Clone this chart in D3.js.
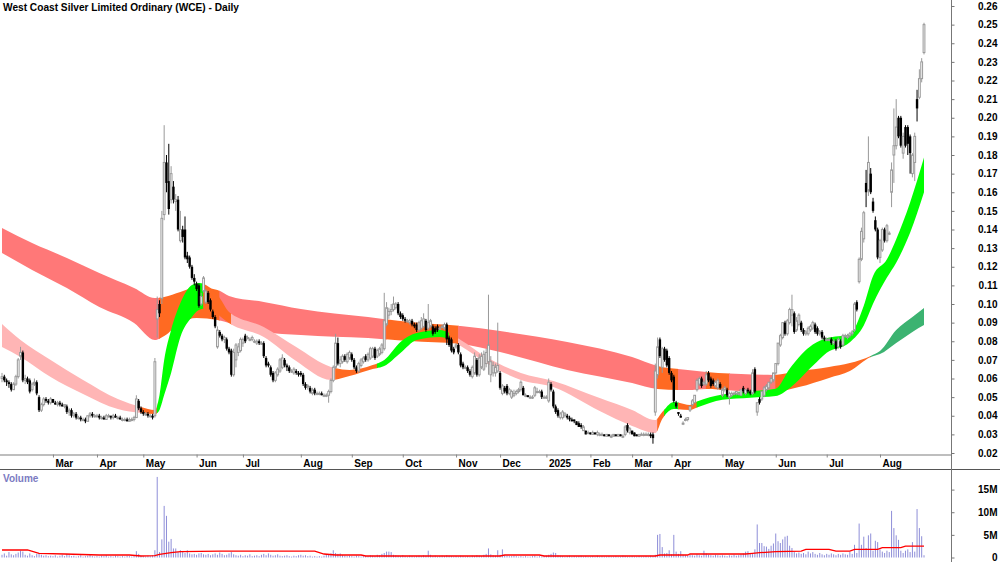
<!DOCTYPE html>
<html>
<head>
<meta charset="utf-8">
<script src="https://cdn.jsdelivr.net/npm/d3@7"></script>
<style>
  body { margin: 0; background: #fff; }
  svg { display: block; }
</style>
</head>
<body>
<svg id="chart" width="1000" height="562"></svg>
<script>
const title = 'West Coast Silver Limited Ordinary (WCE) - Daily'

// daily bars, prices in thousandths of A$ : [open, high, low, close]
const ohlc = [
  // Feb 2024
  [60,63,58,61],[61,62,58,59],[59,60,56,58],[58,59,55,57],[57,58,53,54],[54,58,54,57],[57,62,56,61],[61,71,60,70],[72,77,70,74],[74,75,58,59],
  [59,62,57,60],[60,61,57,58],[59,60,52,53],[54,58,53,57],[57,60,56,58],[58,59,51,52],[50,51,42,43],[43,47,42,46],[46,50,45,49],[49,50,47,48],
  [48,49,46,47],[47,50,46,49],
  // Mar
  [49,49,47,47],[47,48,46,46],[46,48,45,47],[47,48,45,46],[46,47,45,45],[45,46,44,46],[45,46,41,42],[42,44,40,43],[43,44,39,40],[40,42,39,41],
  [41,42,38,39],[39,40,38,39],[39,40,37,38],[38,39,37,38],[38,39,36,37],[37,40,37,40],[40,42,39,41],[41,42,39,40],[40,41,39,40],
  // Apr
  [40,41,39,40],[40,41,38,39],[39,40,38,39],[39,40,38,38],[38,41,38,40],[40,41,39,40],[40,40,38,39],[39,41,38,40],[40,41,39,39],[39,40,38,39],
  [39,40,38,38],[38,39,37,38],[38,39,37,38],[38,39,37,37],[37,39,37,38],[38,39,37,38],[38,40,37,39],[39,51,39,49],[48,49,43,44],[44,45,41,42],
  // May
  [42,43,40,41],[41,42,40,41],[41,42,39,40],[40,41,39,40],[40,41,38,39],[40,71,39,69],[92,104,82,97],[100,102,93,95],[103,150,100,146],
  [148,196,145,176],[176,180,160,165],[166,186,148,151],[156,174,154,170],[163,166,154,156],[155,159,150,156],[156,158,139,140],[134,150,133,140],[140,142,133,136],[140,147,124,125],
  [126,128,122,124],[125,126,119,120],[120,121,113,114],[114,116,110,112],
  // Jun
  [111,112,107,108],[110,111,98,99],[100,106,99,104],[107,115,106,114],[101,108,100,107],[106,107,100,101],
  [102,103,96,97],[96,97,92,93],[93,94,87,88],[77,88,76,86],[85,86,82,83],[83,84,80,81],[81,83,79,82],[81,82,75,76],[76,77,73,74],[75,76,61,62],
  [62,76,61,74],[70,79,66,78],[74,79,72,77],[75,82,74,81],
  // Jul
  [79,82,77,81],[83,84,79,80],[82,83,81,82],
  [81,82,80,81],[81,83,80,82],[80,81,79,80],[79,81,78,80],[80,81,78,79],[79,80,78,79],
  [79,80,71,72],[71,72,66,67],[68,69,66,67],[66,67,61,62],[63,64,58,59],[59,64,58,63],[62,66,61,65],[64,71,63,70],[66,73,65,71],[70,71,66,67],
  [67,68,64,66],[66,67,63,64],[64,65,63,64],[63,66,62,65],[64,65,62,63],
  // Aug
  [63,64,61,62],[63,64,61,62],[62,63,56,57],[57,58,54,55],[56,57,54,56],[55,56,52,53],[52,55,51,54],[54,55,51,52],
  [52,53,51,52],[52,53,51,52],[52,53,51,51],[51,52,50,51],[51,52,50,51],
  [51,54,47,53],[53,60,52,59],[59,67,58,66],[66,84,65,79],[79,82,67,68],[68,72,66,70],[69,73,68,72],[72,73,69,70],[69,74,68,73],
  // Sep
  [71,75,70,74],
  [73,74,69,70],[70,71,65,66],[66,67,63,64],[64,69,63,68],[67,71,66,70],[69,72,68,71],[72,73,69,70],[70,74,69,73],[71,77,70,76],[72,77,71,76],
  [76,77,70,71],[72,76,71,75],[73,77,72,76],[74,79,73,78],[76,106,75,91],[89,101,88,98],[94,98,92,96],[96,100,94,97],[97,104,96,100],[98,101,97,100],
  [100,101,94,95],[95,96,92,93],
  // Oct
  [94,95,91,92],[92,93,90,91],[91,92,90,91],[90,92,89,91],[91,92,88,89],[89,90,87,88],[89,90,85,86],[86,91,85,90],
  [87,93,86,91],[88,95,87,92],[91,92,85,86],[87,100,86,90],[88,92,87,91],[88,89,83,84],[87,88,84,85],[88,89,85,86],[87,88,86,87],[88,89,87,88],
  [87,90,86,89],[89,90,78,81],[82,83,77,78],[81,82,74,75],[76,77,73,74],
  // Nov
  [77,79,76,78],[78,79,73,74],[73,74,66,67],[68,69,65,66],[66,67,65,66],
  [66,67,63,64],[64,65,61,62],[61,67,60,66],[63,74,62,72],[70,71,61,62],[62,73,61,71],[66,74,65,72],[65,75,64,73],[68,76,66,74],[69,105,62,78],
  [62,72,58,69],[63,69,61,67],[63,68,61,66],[64,90,63,67],
  // Dec
  [63,64,54,55],[52,57,51,56],[55,56,52,53],[56,57,51,52],[52,55,51,54],[50,54,49,53],[51,54,50,52],[52,54,51,53],[53,55,52,54],[54,59,53,58],
  [55,56,51,51],[51,52,50,51],[51,51,50,50],[50,51,49,50],[50,51,49,50],[51,56,50,55],[53,55,52,53],[53,54,52,53],[53,54,49,50],[50,51,49,50],
  // Jan 2025
  [50,51,49,50],[48,60,47,58],[57,58,53,54],[53,54,44,45],[45,46,41,42],[43,44,39,40],[39,42,38,41],[39,43,38,42],[40,42,39,41],[40,41,38,39],
  [39,40,37,38],[38,39,37,37],[38,38,36,37],[37,37,35,35],[36,37,34,34],[35,36,33,34],[32,35,32,34],[32,32,30,30],[31,32,30,31],
  // Feb
  [31,31,30,30],[30,32,30,31],[31,31,30,30],[30,32,29,31],[30,31,29,30],[30,31,29,30],[30,30,29,29],[29,30,29,30],[30,30,29,29],[29,30,28,29],
  [29,30,29,30],[30,30,29,29],[29,30,29,30],[30,30,29,29],[29,30,28,29],[30,35,29,34],[35,36,31,32],[31,34,30,33],
  // Mar
  [32,32,30,30],[31,31,29,29],[30,30,29,29],[29,30,29,30],[30,31,30,30],[30,31,29,30],[30,31,30,30],[30,31,29,30],[30,31,28,29],[30,31,25,28],
  [42,68,40,64],[62,82,60,77],[81,82,71,72],[66,77,63,76],[76,77,69,70],[75,76,66,67],[71,72,62,63],
  // Apr
  [63,64,58,59],[61,62,47,48],[47,48,44,45],[42,42,40,41],[40,41,39,39],[36,37,35,36],[38,39,37,38],[38,39,37,39],[43,45,42,45],[46,49,45,48],
  [47,51,47,51],[54,60,53,59],[57,61,56,60],[60,61,55,56],[57,59,56,58],[57,64,56,62],[63,64,58,59],[60,61,55,56],[59,60,56,57],[56,59,55,58],
  [55,60,54,59],[57,58,54,55],
  // May
  [51,55,50,54],[54,56,53,55],[54,55,50,51],[50,53,46,52],[51,53,50,52],[52,53,51,52],[52,53,51,53],[52,53,51,52],[51,54,51,54],[55,56,52,53],
  [52,54,51,54],[54,55,52,53],[53,54,51,52],[52,65,51,63],[65,66,52,53],[42,47,40,47],[49,50,46,47],[49,53,48,53],[51,56,50,55],[54,57,53,56],
  [55,58,54,58],[58,61,57,60],[59,63,58,63],
  // Jun
  [63,68,62,68],[68,79,67,79],[78,84,77,83],[82,90,81,90],[90,91,83,84],[84,92,83,91],[90,98,89,97],[94,105,88,97],[95,96,84,85],[86,93,85,91],
  [89,95,88,94],[90,91,85,86],[86,87,83,84],[84,86,83,85],[84,88,83,87],[86,89,85,88],[87,91,86,90],[89,90,84,85],[87,88,83,84],[84,86,83,85],
  [85,86,81,82],[82,83,80,81],
  // Jul
  [81,82,80,81],[81,82,80,81],[81,82,78,79],[79,81,78,80],[80,81,75,76],[77,82,76,81],[80,81,76,77],[78,84,77,83],[83,84,82,83],[82,84,81,83],
  [83,85,82,84],[84,86,83,85],[86,101,85,100],[101,102,96,97],[112,125,111,124],[124,141,123,139],[135,150,133,149],[165,172,152,160],[161,190,158,176],[170,173,159,160],
  [155,157,149,150],[145,147,139,140],[140,141,124,125],
  // Aug
  [125,135,122,134],[129,141,128,140],[140,141,133,134],[134,143,133,142],[138,139,137,138],[160,176,152,172],[180,205,165,185],[185,210,183,195],[200,201,189,190],[200,201,184,185],
  [181,192,178,190],[195,196,184,185],[195,196,180,186],[190,191,170,181],[170,181,168,180],[176,192,166,190],[210,215,198,205],[211,226,210,221],[221,232,219,230],[235,251,234,250]
]

// daily volume, millions of shares
const volumes = [
  0.6,0.9,0.4,1.2,0.7,0.5,0.8,1.1,1.5,1.3, 0.6,0.4,0.9,0.5,0.3,0.8,1.0,0.6,0.4,0.5,
  0.3,0.4,0.3,0.5,0.2,0.4,0.6,0.3,0.8,0.5, 0.3,0.4,0.2,0.3,0.5,0.2,0.3,0.4,0.6,0.3,
  0.2,0.3,0.2,0.4,0.3,0.5,0.2,0.3,0.2,0.4, 0.3,0.2,0.3,0.2,0.4,0.3,0.2,0.3,1.4,0.8,
  0.4,0.3,0.2,0.4,0.3,0.5,1.6,17.8,1.2,4.0, 11.4,9.2,3.5,4.1,2.0,2.0,1.2,1.6,1.3,1.0,
  1.6,0.9,0.7,0.8,0.6,0.9,1.0,0.7,0.6,0.8, 0.5,0.7,0.9,0.6,1.1,0.8,0.5,0.6,0.9,1.2,
  0.7,0.5,0.4,0.6,0.3,0.5,0.4,0.7,0.3,0.4, 0.5,0.3,0.6,0.8,0.5,0.9,0.6,0.4,0.5,0.7,
  0.4,0.3,0.4,0.5,0.3,0.2,0.4,0.3,0.5,0.6, 0.4,0.5,0.3,0.4,0.2,0.3,0.2,0.3,0.2,0.4,
  0.6,0.7,0.9,1.6,1.0,0.8,0.9,0.5,0.4,0.3, 0.4,0.3,0.2,0.4,0.3,0.2,0.3,0.4,0.3,0.5,
  0.4,0.3,0.6,0.5,0.8,1.0,1.3,1.3,1.2,0.6, 0.5,0.4,0.3,0.5,0.3,0.2,0.4,0.3,0.2,0.3,
  0.4,0.3,0.5,0.4,1.5,0.6,0.3,0.4,0.2,0.3, 0.4,0.3,0.5,0.4,0.3,0.2,0.3,0.2,0.4,0.3,
  0.2,0.3,0.2,0.4,0.3,0.5,0.4,0.3,0.6,0.8, 2.0,0.7,0.5,0.4,1.6,0.6,1.8,0.5,0.4,0.3,
  0.3,0.4,0.3,0.2,0.3,0.2,0.3,0.2,0.2,0.3, 0.4,0.2,0.3,0.2,0.3,0.4,0.6,0.8,1.1,1.0,
  0.5,0.4,0.3,0.2,0.3,0.4,0.2,0.3,0.2,0.3, 0.4,0.2,0.3,0.2,0.2,0.3,0.2,0.4,0.2,0.3,
  0.2,0.2,0.3,0.2,0.2,0.3,0.2,0.2,0.4,0.3, 0.2,0.2,0.3,0.2,0.2,0.3,0.2,0.2,0.3,0.2,
  0.4,0.3,0.6,5.0,5.2,2.3,0.9,1.0,1.6,0.7, 5.0,1.3,0.8,1.4,0.6,0.5,0.4,0.6,0.5,0.4,
  0.7,0.5,0.4,1.5,0.9,0.6,0.5,0.4,0.6,0.5, 0.4,0.5,0.4,0.3,0.5,0.4,0.6,0.4,0.5,0.7,
  0.9,1.3,1.4,0.9,1.0,1.8,7.3,3.2,3.2,2.5, 2.4,1.9,2.6,3.1,5.3,3.6,3.2,4.0,4.6,4.8,
  2.6,2.1,1.2,0.9,1.1,0.8,1.0,0.7,1.3,0.9, 1.2,0.8,0.6,1.0,0.7,0.5,0.8,0.6,0.9,0.7,
  0.5,0.8,0.6,0.9,0.7,0.6,1.2,0.8,2.8,1.0, 7.5,2.8,4.6,2.1,4.9,5.3,1.5,3.7,3.4,1.8,
  1.3,1.0,1.5,1.2,10.3,6.5,4.9,3.9,1.5,1.0, 1.5,1.8,1.2,3.4,1.3,10.7,6.5,4.7,0.5
]

// volume moving average, read at bar index: [bar, millions]
const volAvg = [
  [0,1.66],[11,1.66],[16,0.93],[27,0.77],[42,0.55],[55,0.55],[60,0.33],[66,0.4],[68,0.7],[73,1.06],
  [77,1.28],[94,1.43],[135,1.43],[139,0.77],[144,0.55],[155,0.55],[157,0.33],[215,0.33],[217,0.55],[232,0.55],
  [234,0.33],[282,0.33],[284,0.55],[296,0.55],[297,0.77],[321,0.77],[324,0.92],[327,1.06],[334,1.28],[345,1.43],
  [347,1.8],[357,1.8],[360,1.43],[366,1.43],[368,1.8],[378,1.8],[380,2.17],[388,2.17],[390,2.5],[398,2.5]
]

// long-term average ribbon (edges)
const longIdx = [0,13,28,42,57,66,70,77,84,93,98,113,129,158,176,198,215,244,272,283,296,304,319,333,344,357,366,375,379,386,393,398]
const longTop = [.1408,.1327,.1247,.1166,.1086,.1032,.1038,.1064,.1091,.1075,.1043,.1011,.0973,.0930,.0903,.0882,.0855,.0796,.0715,.0667,.0646,.0635,.0624,.0619,.0640,.0662,.0683,.0721,.0747,.0860,.0930,.0979]
const longBot = [.1274,.1183,.1086,.0984,.0898,.0807,.0828,.0898,.0925,.0914,.0898,.0850,.0834,.0817,.0801,.0785,.0742,.0646,.0576,.0544,.0538,.0544,.0533,.0528,.0554,.0603,.0640,.0715,.0731,.0791,.0850,.0887]
const longPhases = [[0,68,'down'],[68,94,'mixed'],[94,166,'down'],[166,197,'mixed'],[197,283,'down'],[283,292,'mixed'],[292,304,'down'],[304,314,'mixed'],[314,334,'down'],[334,375,'mixed'],[375,398,'up']]

// short-term average ribbon
const shortIdx = [0,8,21,35,50,60,66,68,70,73,77,82,85,90,94,98,113,127,142,150,160,165,172,179,189,198,209,224,238,258,272,282,285,290,297,300,311,323,334,340,350,356,366,372,376,382,386,392,398]
const shortTop = [.0893,.0807,.0699,.0592,.0490,.0447,.0431,.0511,.0699,.0860,.1005,.1102,.1113,.1086,.1032,.0957,.0877,.0769,.0662,.0646,.0672,.0699,.0796,.0844,.0860,.0807,.0715,.0630,.0587,.0495,.0431,.0377,.0420,.0474,.0458,.0476,.0514,.0532,.0545,.0652,.0782,.0816,.0838,.0990,.1150,.1240,.1348,.1545,.1786]
const shortBot = [.0769,.0715,.0608,.0517,.0436,.0415,.0409,.0431,.0511,.0630,.0823,.0930,.0968,.0979,.0936,.0898,.0823,.0694,.0592,.0613,.0651,.0667,.0737,.0807,.0823,.0774,.0683,.0592,.0554,.0425,.0345,.0307,.0383,.0436,.0431,.0444,.0486,.0497,.0506,.0548,.0668,.0738,.0795,.0885,.1002,.1142,.1222,.1382,.1600]
const shortPhases = [[0,60,'down'],[60,67,'mixed'],[67,87,'up'],[87,99,'mixed'],[99,144,'down'],[144,162,'mixed'],[162,193,'up'],[193,197,'mixed'],[197,283,'down'],[283,286,'mixed'],[286,292,'up'],[292,300,'mixed'],[300,398,'up']]

// axis ticks
const monthIdx = [22,41,61,84,104,129,151,173,196,215,235,254,272,289,311,334,356,379]
const monthLabels = ['Mar','Apr','May','Jun','Jul','Aug','Sep','Oct','Nov','Dec','2025','Feb','Mar','Apr','May','Jun','Jul','Aug']
const priceTicks = [0.02,0.03,0.04,0.05,0.06,0.07,0.08,0.09,0.10,0.11,0.12,0.13,0.14,0.15,0.16,0.17,0.18,0.19,0.20,0.21,0.22,0.23,0.24,0.25,0.26]
const volTicks = [0,5,10,15]

// colours
const longColors = { down: '#ff7878', mixed: '#ff6a22', up: '#3cb371' }
const shortColors = { down: '#ffb5b5', mixed: '#ff6a22', up: '#00ff00' }
const upColor = '#999999'
const downColor = '#000000'
const volColor = '#8e8ed8'
const font = '"Liberation Sans", Arial, sans-serif'

const svg = d3.select('#chart')
const defs = svg.append('defs')

// scales
const x = d3.scaleLinear().domain([0, ohlc.length - 1]).range([2, 924])
const y = d3.scaleLinear().domain([0.02, 0.26]).range([453, 6])
const yVol = d3.scaleLinear().domain([0, 15]).range([557.5, 489.6])

// ribbons
function drawRibbon(idx, top, bot, phases, colors, name) {
    let pts = idx.map((d, k) => ({ i: d, hi: top[k], lo: bot[k] }))
    let area = d3.area()
        .x(d => x(d.i))
        .y0(d => y(d.lo))
        .y1(d => y(d.hi))
        .curve(d3.curveMonotoneX)
    let pathD = area(pts)
    phases.forEach((p, k) => {
        let id = name + k
        let x0 = k === 0 ? 0 : x(p[0]) - 0.4
        let x1 = k === phases.length - 1 ? x(p[1]) + 2 : x(p[1]) + 0.4
        defs.append('clipPath').attr('id', id)
            .append('rect')
            .attr('x', x0).attr('y', 0)
            .attr('width', x1 - x0).attr('height', 455)
        svg.append('path')
            .attr('d', pathD)
            .attr('fill', colors[p[2]])
            .attr('clip-path', 'url(#' + id + ')')
    })
}
drawRibbon(longIdx, longTop, longBot, longPhases, longColors, 'lclip')
drawRibbon(shortIdx, shortTop, shortBot, shortPhases, shortColors, 'sclip')

// candles
let candles = svg.append('g')
ohlc.forEach((d, i) => {
    let o = d[0] / 1000, h = d[1] / 1000, l = d[2] / 1000, c = d[3] / 1000
    let up = c >= o
    let cx = x(i)
    candles.append('line')
        .attr('x1', cx).attr('x2', cx)
        .attr('y1', y(h)).attr('y2', y(l))
        .attr('stroke', up ? upColor : downColor)
        .attr('stroke-width', 1)
    let top = y(Math.max(o, c))
    let hgt = Math.max(Math.abs(y(o) - y(c)), 1)
    if (up) {
        candles.append('rect')
            .attr('x', cx - 0.9).attr('y', top)
            .attr('width', 1.8).attr('height', hgt)
            .attr('fill', '#fff')
            .attr('stroke', upColor)
            .attr('stroke-width', 1)
    } else {
        candles.append('rect')
            .attr('x', cx - 1.2).attr('y', top)
            .attr('width', 2.4).attr('height', hgt)
            .attr('fill', downColor)
    }
})

// volume bars
svg.append('g').selectAll('line')
    .data(volumes)
    .enter()
    .append('line')
    .attr('x1', (d, i) => x(i)).attr('x2', (d, i) => x(i))
    .attr('y1', yVol(0)).attr('y2', d => yVol(d))
    .attr('stroke', volColor)
    .attr('stroke-width', 1)

// volume average
svg.append('path')
    .datum(volAvg)
    .attr('d', d3.line().x(d => x(d[0])).y(d => yVol(d[1])))
    .attr('fill', 'none')
    .attr('stroke', '#ff0000')
    .attr('stroke-width', 1.3)

// frame lines
svg.append('line').attr('x1', 0).attr('x2', 952).attr('y1', 455).attr('y2', 455)
    .attr('stroke', '#a8a8a8').attr('stroke-width', 1.5)
svg.append('line').attr('x1', 0).attr('x2', 1000).attr('y1', 469.5).attr('y2', 469.5)
    .attr('stroke', '#555').attr('stroke-width', 1)
svg.append('line').attr('x1', 951.5).attr('x2', 951.5).attr('y1', 0).attr('y2', 562)
    .attr('stroke', '#777').attr('stroke-width', 1)

// price axis
let yAxis = d3.axisRight(y).tickValues(priceTicks).tickFormat(d3.format('.2f')).tickSize(3)
let gy = svg.append('g').attr('transform', 'translate(951.5,0)').call(yAxis)
gy.select('.domain').remove()
gy.selectAll('line').attr('stroke', '#777')
gy.selectAll('text').attr('x', 46).attr('text-anchor', 'end').attr('fill', '#000')
gy.attr('font-family', font).attr('font-size', 10).attr('font-weight', 'bold')

// volume axis
let vAxis = d3.axisRight(yVol).tickValues(volTicks).tickFormat(d => d === 0 ? '0' : d + 'M').tickSize(3)
let gv = svg.append('g').attr('transform', 'translate(951.5,0)').call(vAxis)
gv.select('.domain').remove()
gv.selectAll('line').attr('stroke', '#777')
gv.selectAll('text').attr('x', 46).attr('text-anchor', 'end').attr('fill', '#000')
gv.attr('font-family', font).attr('font-size', 10).attr('font-weight', 'bold')

// month axis
let xAxis = d3.axisBottom(x).tickValues(monthIdx).tickFormat((d, k) => monthLabels[k]).tickSize(3)
let gx = svg.append('g').attr('transform', 'translate(0,454.5)').call(xAxis)
gx.select('.domain').remove()
gx.selectAll('line').attr('stroke', '#888')
gx.selectAll('text').attr('x', 2).attr('y', 12.5).attr('dy', 0).attr('text-anchor', 'start').attr('fill', '#000')
gx.attr('font-family', font).attr('font-size', 10).attr('font-weight', 'bold')

// labels
svg.append('text')
    .attr('x', 3).attr('y', 10.5)
    .attr('font-family', font).attr('font-size', 10.5).attr('font-weight', 'bold')
    .attr('textLength', 236).attr('lengthAdjust', 'spacingAndGlyphs')
    .text(title)

svg.append('text')
    .attr('x', 3).attr('y', 482)
    .attr('font-family', font).attr('font-size', 10).attr('font-weight', 'bold')
    .attr('fill', '#7b7bc2')
    .text('Volume')
</script>
</body>
</html>
